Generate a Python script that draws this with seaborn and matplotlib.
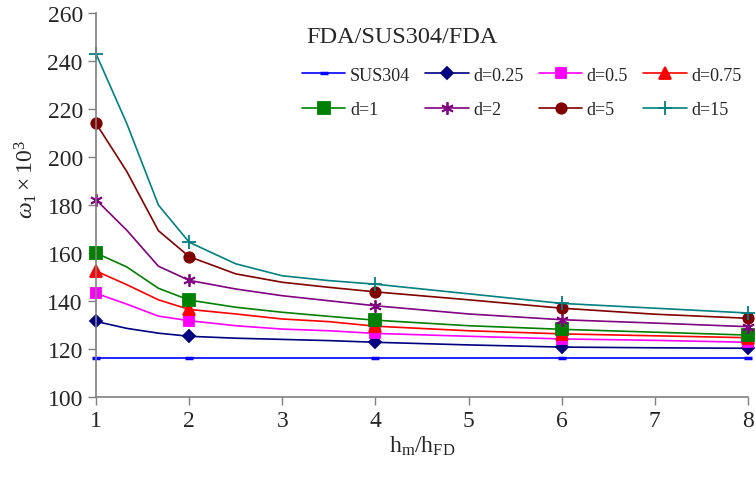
import numpy as np
import pandas as pd
import seaborn as sns
import matplotlib.pyplot as plt

# h_m/h_FD positions (markers only at 1, 2, 4, 6, 8)
x_vals = [1, 1.33, 1.67, 2, 2.5, 3, 3.5, 4, 5, 6, 7, 8]
marker_idx = [0, 3, 7, 9, 11]

sus304 = [116.3, 116.3, 116.3, 116.3, 116.3, 116.3, 116.3, 116.3, 116.3, 116.3, 116.3, 116.3]
d_025 = [131.5, 128.6, 126.6, 125.3, 124.5, 124.0, 123.5, 122.8, 121.7, 120.8, 120.5, 120.3]
d_05 = [143.2, 138.7, 133.7, 131.8, 129.7, 128.3, 127.6, 126.5, 125.3, 124.2, 123.6, 122.8]
d_075 = [152.5, 146.8, 140.5, 136.5, 134.6, 132.5, 131.4, 129.5, 127.6, 126.3, 125.5, 124.7]
d_1 = [160.0, 154.2, 145.3, 140.4, 137.4, 135.3, 133.6, 132.0, 129.7, 128.2, 127.0, 125.8]
d_2 = [182.2, 169.5, 154.5, 148.6, 145.0, 142.2, 140.1, 138.0, 134.6, 132.2, 130.8, 129.3]
d_5 = [214.0, 194.0, 169.3, 158.5, 151.3, 147.8, 145.7, 143.8, 140.5, 137.0, 134.5, 132.8]
d_15 = [243.0, 214.0, 180.0, 164.5, 155.5, 150.5, 148.5, 147.0, 143.0, 139.0, 137.0, 135.0]

labels = ['SUS304', 'd=0.25', 'd=0.5', 'd=0.75', 'd=1', 'd=2', 'd=5', 'd=15']
series = [sus304, d_025, d_05, d_075, d_1, d_2, d_5, d_15]

# style per series: colour, marker, marker size
styles = [
    ('#0000FF', '_', 6),
    ('#000080', 'D', 6.5),
    ('#FF00FF', 's', 6.5),
    ('#FF0000', '^', 8),
    ('#008000', 's', 8.5),
    ('#800080', (6, 2, 0), 9),
    ('#800000', 'o', 7.5),
    ('#008080', '+', 10),
]

sns.set_theme(style="ticks")
plt.rcParams['font.family'] = ['Liberation Serif', 'DejaVu Serif']
plt.rcParams['mathtext.fontset'] = 'custom'
plt.rcParams['mathtext.rm'] = 'Liberation Serif'
plt.rcParams['mathtext.it'] = 'Liberation Serif:italic'

fig = plt.figure(figsize=(7.55, 4.85), dpi=100)
ax = fig.add_axes([96 / 755, 1 - 398 / 485, 652 / 755, 384 / 485])

for lab, vals, (col, mk, ms) in zip(labels, series, styles):
    df = pd.DataFrame({'x': x_vals, 'y': vals})
    sns.lineplot(data=df, x='x', y='y', ax=ax, color=col, linewidth=1.2,
                 marker=mk, markersize=ms, markevery=marker_idx,
                 markeredgecolor=col, markerfacecolor=col,
                 markeredgewidth=2.5 if mk == '_' else 1.3,
                 label=lab, clip_on=False)

ax.set_xlim(1, 8)
ax.set_ylim(100, 260)
ax.set_xticks(range(1, 9))
ax.set_yticks(range(100, 261, 20))
ax.tick_params(labelsize=17, direction='out', length=6, width=1, color='#808080')

for s in ['top', 'right']:
    ax.spines[s].set_visible(False)
for s in ['left', 'bottom']:
    ax.spines[s].set_color('#808080')
    ax.spines[s].set_linewidth(1.2)

ax.set_xlabel(r'h$_{\mathrm{m}}$/h$_{\mathrm{FD}}$', fontsize=17, labelpad=2)
ax.set_ylabel(r'$\omega_1\times10^3$', fontsize=17)
ax.yaxis.set_label_coords(-0.088, 0.57)

ax.text(0.47, 0.94, 'FDA/SUS304/FDA', transform=ax.transAxes,
        ha='center', va='center', fontsize=17.5)

# legend filled row by row (matplotlib fills by column)
handles, labs = ax.get_legend_handles_labels()
order = [0, 4, 1, 5, 2, 6, 3, 7]
ax.legend([handles[i] for i in order], [labs[i] for i in order],
          loc='upper left', bbox_to_anchor=(0.316, 0.86), ncol=4,
          frameon=False, fontsize=13, handlelength=2.4, handletextpad=0.25,
          columnspacing=0.85, labelspacing=0.95, borderpad=0, borderaxespad=0)

fig.savefig('out.png', dpi=100)
